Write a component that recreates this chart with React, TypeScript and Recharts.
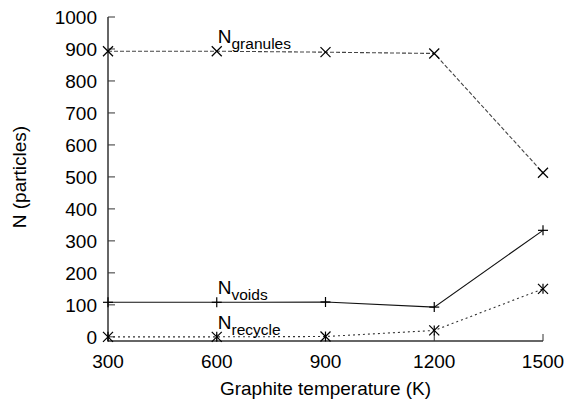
import React from "react";
import { LineChart, Line, XAxis, YAxis, LabelList } from "recharts";

const FONT = "'Liberation Sans', Arial, Helvetica, sans-serif";

// graphite temperature (K)
const temperatures = [300, 600, 900, 1200, 1500];
// particle counts
const granules = [893, 893, 890, 886, 513];
const voids = [108, 108, 109, 93, 333];
const recycle = [0, 0, 1, 20, 150];

const xTicks = [300, 600, 900, 1200, 1500];
const yTicks = [0, 100, 200, 300, 400, 500, 600, 700, 800, 900, 1000];

const data = temperatures.map((t, i) => ({
  t,
  granules: granules[i],
  voids: voids[i],
  recycle: recycle[i],
}));

const AXIS = "#333";

function CrossDot(props: any) {
  const { cx, cy } = props;
  if (cx == null || cy == null) return <g />;
  const s = 5;
  return (
    <g stroke="#000" strokeWidth={1.2}>
      <line x1={cx - s} y1={cy - s} x2={cx + s} y2={cy + s} />
      <line x1={cx - s} y1={cy + s} x2={cx + s} y2={cy - s} />
    </g>
  );
}

function PlusDot(props: any) {
  const { cx, cy } = props;
  if (cx == null || cy == null) return <g />;
  const s = 5;
  return (
    <g stroke="#000" strokeWidth={1.2}>
      <line x1={cx - s} y1={cy} x2={cx + s} y2={cy} />
      <line x1={cx} y1={cy - s} x2={cx} y2={cy + s} />
    </g>
  );
}

function StarDot(props: any) {
  const { cx, cy } = props;
  if (cx == null || cy == null) return <g />;
  const s = 5;
  return (
    <g stroke="#000" strokeWidth={1.2}>
      <line x1={cx - s} y1={cy - s} x2={cx + s} y2={cy + s} />
      <line x1={cx - s} y1={cy + s} x2={cx + s} y2={cy - s} />
      <line x1={cx} y1={cy - s} x2={cx} y2={cy + s} />
    </g>
  );
}

// "N" with a subscript, placed just above the 600 K point of a series
const seriesLabel = (sub: string) => (props: any) => {
  const { x, y, index } = props;
  if (index !== 1) return null;
  return (
    <text x={x + 1} y={y - 8} fontSize={19} fill="#000" fontFamily={FONT}>
      N
      <tspan fontSize={15.5} dy={6}>
        {sub}
      </tspan>
    </text>
  );
};

const emptyTick = () => <g />;

export default function App() {
  return (
    <div style={{ position: "absolute", left: 0, top: 0, background: "#fff" }}>
      <LineChart
        width={568}
        height={399}
        data={data}
        margin={{ top: 17, right: 25, left: 0, bottom: 0 }}
        style={{ fontFamily: FONT }}
      >
        <XAxis
          dataKey="t"
          type="number"
          domain={[300, 1500]}
          ticks={xTicks}
          interval={0}
          height={58}
          tickSize={-7}
          tickMargin={21}
          axisLine={{ stroke: AXIS, strokeWidth: 1.5 }}
          tickLine={{ stroke: AXIS }}
          tick={{ fill: "#000", fontSize: 19, fontFamily: FONT }}
          label={{
            content: (p: any) => {
              const vb = p.viewBox;
              return (
                <text
                  x={vb.x + vb.width / 2}
                  y={vb.y + vb.height - 4}
                  textAnchor="middle"
                  fontSize={19}
                  fill="#000"
                  fontFamily={FONT}
                >
                  Graphite temperature (K)
                </text>
              );
            },
          }}
        />
        <XAxis
          xAxisId="top"
          orientation="top"
          dataKey="t"
          type="number"
          domain={[300, 1500]}
          ticks={xTicks}
          interval={0}
          height={0}
          tickSize={-7}
          axisLine={{ stroke: AXIS, strokeWidth: 1.5 }}
          tickLine={{ stroke: AXIS }}
          tick={emptyTick}
        />
        <YAxis
          type="number"
          domain={[-13, 1000]}
          ticks={yTicks}
          interval={0}
          width={108}
          tickSize={-7}
          tickMargin={18}
          axisLine={{ stroke: AXIS, strokeWidth: 1.5 }}
          tickLine={{ stroke: AXIS }}
          tick={{ fill: "#000", fontSize: 19, fontFamily: FONT }}
          label={{
            content: (p: any) => {
              const vb = p.viewBox;
              const cx = vb.x + 26;
              const cy = vb.y + vb.height / 2 - 2;
              return (
                <text
                  transform={`translate(${cx},${cy}) rotate(-90)`}
                  textAnchor="middle"
                  fontSize={19}
                  fill="#000"
                  fontFamily={FONT}
                >
                  N (particles)
                </text>
              );
            },
          }}
        />
        <YAxis
          yAxisId="right"
          orientation="right"
          type="number"
          domain={[-13, 1000]}
          ticks={yTicks}
          interval={0}
          width={0}
          tickSize={-7}
          axisLine={{ stroke: AXIS, strokeWidth: 1.5 }}
          tickLine={{ stroke: AXIS }}
          tick={emptyTick}
        />
        <Line
          dataKey="granules"
          type="linear"
          stroke="#444"
          strokeWidth={1.1}
          strokeDasharray="4 2"
          dot={<CrossDot />}
          activeDot={false}
          isAnimationActive={false}
        >
          <LabelList dataKey="granules" content={seriesLabel("granules")} />
        </Line>
        <Line
          dataKey="voids"
          type="linear"
          stroke="#111"
          strokeWidth={1.1}
          dot={<PlusDot />}
          activeDot={false}
          isAnimationActive={false}
        >
          <LabelList dataKey="voids" content={seriesLabel("voids")} />
        </Line>
        <Line
          dataKey="recycle"
          type="linear"
          stroke="#333"
          strokeWidth={1.1}
          strokeDasharray="2 3"
          dot={<StarDot />}
          activeDot={false}
          isAnimationActive={false}
        >
          <LabelList dataKey="recycle" content={seriesLabel("recycle")} />
        </Line>
      </LineChart>
    </div>
  );
}
